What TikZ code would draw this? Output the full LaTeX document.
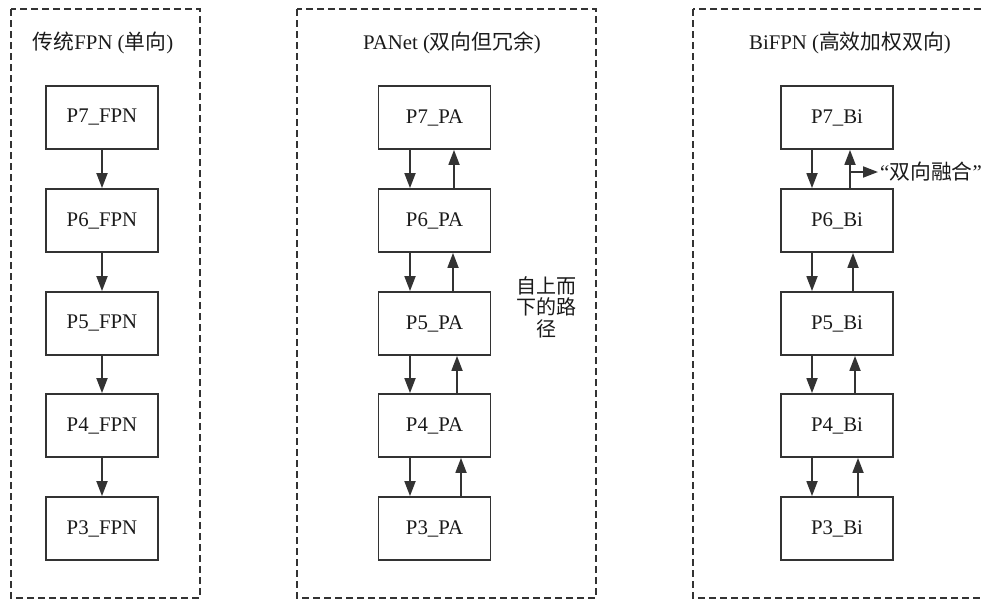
\documentclass[tikz,border=0pt]{standalone}
\usepackage{fontspec}
\setmainfont{Liberation Serif}
\newfontfamily\cjk{Noto Sans CJK SC}
\usetikzlibrary{arrows.meta}
\definecolor{ink}{HTML}{333333}
\definecolor{letter}{HTML}{1A1A1A}
\newcommand{\clusterframe}[5]{
    \draw[ink, line width=1.6pt, dash pattern=on 7pt off 4pt] (#2,9) rectangle (#3,598);
    \node[title] (#1) at (#4,43) {#5};
}

\begin{document}
\begin{tikzpicture}[x=1pt,y=-1pt,
    title/.style={font=\fontsize{20.8}{24}\selectfont, text=letter, inner sep=2pt},
    block/.style={draw=ink, line width=1.8pt, minimum width=112pt, minimum height=63pt,
        inner sep=0pt, font=\fontsize{20.8}{24}\selectfont, text=letter},
    flow/.style={draw=ink, line width=1.8pt, -{Triangle[length=15pt,width=11pt]}}]
    \useasboundingbox (0,0) rectangle (984,600);
    \clip (0,0) rectangle (984,600);
    % the three clusters
    \clusterframe{fpntitle}{11}{200}{103}{{\cjk 传统}FPN ({\cjk 单向})}
    \clusterframe{patitle}{297}{596}{452}{PANet ({\cjk 双向但冗余})}
    \clusterframe{bititle}{693}{1007}{850}{BiFPN ({\cjk 高效加权双向})}
    % levels
    \foreach \lvl/\y in {7/117.5,6/220.5,5/323.5,4/425.5,3/528.5} {
        \node[block] (fpn\lvl) at (102,\y) {P\lvl\_FPN};
        \node[block] (pa\lvl) at (434.5,\y) {P\lvl\_PA};
        \node[block] (bi\lvl) at (837,\y) {P\lvl\_Bi};
    }
    % FPN: top-down only
    \foreach \a/\b in {7/6,6/5,5/4,4/3}
        \draw[flow] (fpn\a) -- (fpn\b);
    % PANet: down and up
    \foreach \a/\b/\u in {7/6/19.5,6/5/18.5,5/4/22.5,4/3/26.5} {
        \draw[flow] ([xshift=-24.5pt]pa\a.south) -- ([xshift=-24.5pt]pa\b.north);
        \draw[flow] ([xshift=\u pt]pa\b.north) -- ([xshift=\u pt]pa\a.south);
    }
    % BiFPN: down and up
    \foreach \a/\b/\u in {7/6/13,6/5/16,5/4/18,4/3/21} {
        \draw[flow] ([xshift=-25pt]bi\a.south) -- ([xshift=-25pt]bi\b.north);
        \draw[flow] ([xshift=\u pt]bi\b.north) -- ([xshift=\u pt]bi\a.south);
    }
    \node[align=center, text=letter, font=\cjk\fontsize{20}{21.5}\selectfont] (topdown) at (546,307) {自上而\\下的路\\径};
    \node[title, anchor=west] (fuse) at (878,172) {“{\cjk 双向融合}”};
    \coordinate (tap) at (850,172);
    \draw[flow] (tap) -- (fuse.west);
\end{tikzpicture}
\end{document}
